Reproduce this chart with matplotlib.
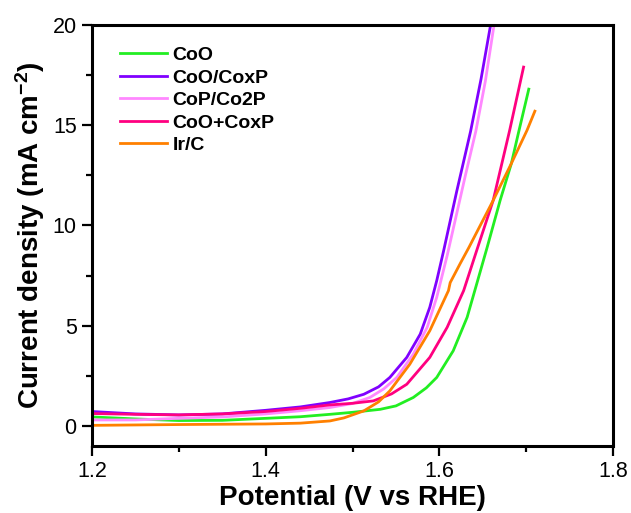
import matplotlib
matplotlib.use("Agg")
import matplotlib.pyplot as plt
from matplotlib.ticker import MultipleLocator, FormatStrFormatter

plt.rcParams['font.family'] = ['Liberation Sans', 'DejaVu Sans']
plt.rcParams['mathtext.fontset'] = 'custom'
plt.rcParams['mathtext.rm'] = 'Liberation Sans'
plt.rcParams['mathtext.bf'] = 'Liberation Sans:bold'

# LSV curves, potential (V vs RHE) and current density (mA cm-2)
v_coo = [1.20, 1.25, 1.30, 1.35, 1.40, 1.44, 1.474, 1.50, 1.532, 1.55, 1.570, 1.585,
         1.597, 1.616, 1.632, 1.643, 1.655, 1.670, 1.683, 1.691, 1.703]
j_coo = [0.45, 0.35, 0.27, 0.28, 0.38, 0.46, 0.58, 0.68, 0.83, 1.00, 1.42, 1.90,
         2.42, 3.75, 5.42, 7.08, 8.90, 11.25, 13.1, 14.6, 16.8]

v_cooxp = [1.20, 1.25, 1.30, 1.35, 1.40, 1.44, 1.474, 1.495, 1.513, 1.530, 1.543,
           1.5625, 1.578, 1.589, 1.597, 1.605, 1.620, 1.636, 1.648, 1.659, 1.662]
j_cooxp = [0.72, 0.60, 0.55, 0.60, 0.78, 0.95, 1.17, 1.35, 1.58, 1.95, 2.42,
           3.42, 4.58, 5.92, 7.25, 8.75, 11.7, 14.7, 17.3, 20.0, 20.6]

v_cop = [1.20, 1.25, 1.30, 1.35, 1.40, 1.44, 1.474, 1.50, 1.520, 1.536, 1.551,
         1.570, 1.586, 1.597, 1.609, 1.630, 1.642, 1.653, 1.663, 1.666]
j_cop = [0.30, 0.30, 0.38, 0.45, 0.60, 0.76, 0.92, 1.12, 1.42, 1.85, 2.42,
         3.58, 4.92, 6.42, 8.50, 12.5, 14.7, 17.2, 20.0, 20.6]

v_mix = [1.20, 1.25, 1.30, 1.35, 1.40, 1.44, 1.474, 1.50, 1.524, 1.545, 1.5625,
         1.589, 1.609, 1.628, 1.643, 1.662, 1.681, 1.697]
j_mix = [0.62, 0.58, 0.55, 0.60, 0.72, 0.88, 1.05, 1.13, 1.25, 1.60, 2.08,
         3.42, 4.92, 6.75, 8.75, 11.25, 14.75, 17.9]

v_irc = [1.20, 1.30, 1.40, 1.44, 1.474, 1.49, 1.513, 1.530, 1.543, 1.566, 1.589,
         1.6105, 1.6125, 1.624, 1.634, 1.662, 1.683, 1.701, 1.710]
j_irc = [0.03, 0.07, 0.10, 0.14, 0.25, 0.40, 0.75, 1.20, 1.75, 3.08, 4.75,
         6.75, 7.15, 8.10, 8.90, 11.25, 13.1, 14.75, 15.7]

labels = ['CoO', 'CoO/CoxP', 'CoP/Co2P', 'CoO+CoxP', 'Ir/C']
colors = ['#22EE22', '#8000FF', '#FF88FF', '#FF0080', '#FF8000']
series = [(v_coo, j_coo), (v_cooxp, j_cooxp), (v_cop, j_cop), (v_mix, j_mix), (v_irc, j_irc)]

fig = plt.figure(figsize=(6.31, 5.13), dpi=100)
ax = fig.add_axes([0.1458, 0.1306, 0.8257, 0.8207])

for (v, j), lab, c in zip(series, labels, colors):
    ax.plot(v, j, color=c, lw=2.0, label=lab)

ax.set_xlim(1.2, 1.8)
ax.set_ylim(-1, 20)
ax.xaxis.set_major_locator(MultipleLocator(0.2))
ax.xaxis.set_minor_locator(MultipleLocator(0.1))
ax.yaxis.set_major_locator(MultipleLocator(5))
ax.yaxis.set_minor_locator(MultipleLocator(2.5))
ax.xaxis.set_major_formatter(FormatStrFormatter('%.1f'))

for s in ax.spines.values():
    s.set_linewidth(2.2)
ax.tick_params(which='major', direction='out', length=7, width=1.6, labelsize=15.5, pad=4)
ax.tick_params(which='minor', direction='out', length=4, width=1.6)
ax.tick_params(top=False, right=False, which='both')

ax.set_xlabel('Potential (V vs RHE)', fontsize=20, fontweight='bold', labelpad=2)
ax.set_ylabel('Current density (mA cm$\\mathbf{^{-2}}$)', fontsize=20,
              fontweight='bold', labelpad=4)

ax.legend(loc='upper left', bbox_to_anchor=(0.02, 0.99), frameon=False,
          prop={'size': 14, 'weight': 'bold'}, handlelength=2.4,
          handletextpad=0.3, labelspacing=0.25)

fig.savefig('out.png', dpi=100)
